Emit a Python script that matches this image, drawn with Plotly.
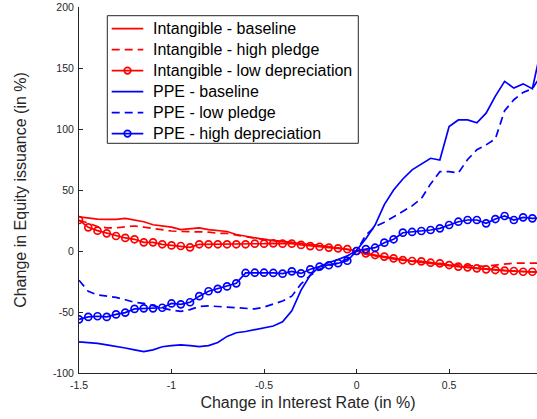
import plotly.graph_objects as go

x = [round(-1.5 + 0.05 * i, 2) for i in range(51)]

int_base = [28, 27, 26.2, 26, 26, 26.8, 25.5, 24, 21.5, 20.5, 19.5, 17.5, 18, 19, 17.5, 17, 16, 13.5, 12, 11,
            9.5, 8.5, 7.8, 7, 6.3, 5.5, 4.5, 3.5, 2.5, 1.2, 0, -2.5, -4, -5.5, -6.5, -7.5, -8.5, -9.5, -10.5, -11,
            -12, -12.8, -13.5, -14.2, -15, -15.6, -16, -16.5, -17, -17.2, -17.5]
int_high_pledge = [25, 23, 20, 19, 19, 20, 20.5, 19.5, 18.5, 17, 16.4, 16, 16, 15.8, 15.5, 14.5, 14.5, 13, 11.5, 10.5,
                   9.5, 8.5, 7.8, 7, 6.3, 5.5, 4.5, 3.5, 2.5, 1.2, 0, -2.5, -4, -5, -6, -7, -8, -9, -9.5, -10.2,
                   -11, -11.5, -12, -12.3, -12.5, -11.5, -10.5, -10, -10, -10, -10]
int_low_dep = [25.4, 19.4, 16.7, 14.5, 12.3, 10.7, 9.6, 7.1, 7.1, 5.5, 4.6, 4.1, 3, 5.5, 5.5, 5.5, 5.5, 5.5, 5.5, 6,
               6, 6.3, 6, 6, 5, 4, 3.5, 2.8, 2.2, 1.5, 0, -1.9, -3.3, -4.6, -6, -7.4, -8.2, -8.5, -9.6, -10.1,
               -11.5, -12.8, -13.4, -14.2, -15, -15.6, -16.1, -16.4, -17, -17, -17.2]
ppe_base = [-74.5, -75, -75.7, -77, -78, -79.5, -81, -82.5, -81, -78.5, -77.5, -77, -77.5, -78.4, -77.5, -75, -70, -67, -66, -64.5,
            -63.5, -61.5, -58, -49, -32, -19.7, -12.8, -9.5, -7, -4, 0.5, 10, 21.3, 38, 50, 59, 66.5, 71, 76, 74.6,
            102, 107.4, 107.4, 105, 113, 127, 139, 133.5, 137, 133, 168]
ppe_low_pledge = [-24, -33, -36, -37, -38, -40, -42, -43, -45, -47, -48.5, -49.5, -48, -45.5, -45, -45.5, -46, -47, -47.5, -47.5,
                  -46, -43.5, -41, -37, -27, -20, -15, -12, -10, -6.5, 0, 13, 20, 23.5, 28, 32, 37, 43, 55, 65,
                  65, 64, 75, 83, 87, 92, 115, 124, 130, 133, 145]
ppe_high_dep = [-56, -54, -53.5, -54, -52, -50.5, -47.5, -47, -47, -46.5, -43, -43.7, -42, -37, -33, -31, -29, -26.5, -18, -17.8,
                -17.8, -18, -18.6, -16.7, -18.4, -15, -12.8, -11.7, -10, -8, 0, 1.6, 2.7, 6.8, 9.6, 15, 15.6, 16.4, 17.2, 18.6,
                21.3, 24, 25.4, 25.4, 22.7, 26.2, 28.7, 25.4, 27.6, 26.8, 27]

x_ticks = [-1.5, -1, -0.5, 0, 0.5]
x_tick_labels = ["-1.5", "-1", "-0.5", "0", "0.5"]
y_ticks = [-100, -50, 0, 50, 100, 150, 200]
y_tick_labels = ["-100", "-50", "0", "50", "100", "150", "200"]

RED = "#ff0000"
BLUE = "#0000ff"
DASH = "8px,5px"
LW = 1.7

series = [
    ("Intangible - baseline", int_base, RED, "solid", False),
    ("Intangible - high pledge", int_high_pledge, RED, DASH, False),
    ("Intangible - low depreciation", int_low_dep, RED, "solid", True),
    ("PPE - baseline", ppe_base, BLUE, "solid", False),
    ("PPE - low pledge", ppe_low_pledge, BLUE, DASH, False),
    ("PPE - high depreciation", ppe_high_dep, BLUE, "solid", True),
]

W, H = 537, 419
ML, MR, MT, MB = 79, 0, 7, 46
PW, PH = W - ML - MR, H - MT - MB


def px(xp):
    return (xp - ML) / PW


def py(yp):
    return 1 - (yp - MT) / PH


fig = go.Figure()
for name, ys, col, dash, mk in series:
    fig.add_trace(go.Scatter(
        x=x, y=ys, name=name, showlegend=False,
        mode="lines+markers" if mk else "lines",
        line=dict(color=col, width=LW, dash=dash),
        marker=dict(symbol="circle-open", size=7, color=col, line=dict(width=1.7, color=col)),
        cliponaxis=True,
    ))

# Legend drawn as box + samples + text (MATLAB-style compact rows)
shapes = []
annotations = []
box_l, box_r, box_t, box_b = 107.3, 358.3, 15.7, 143.3
shapes.append(dict(type="rect", xref="paper", yref="paper",
                   x0=px(box_l), x1=px(box_r), y0=py(box_b), y1=py(box_t),
                   line=dict(color="#262626", width=1), fillcolor="white", layer="above"))
row0, row_gap = 28.6, 21.0
for i, (name, ys, col, dash, mk) in enumerate(series):
    yc = row0 + i * row_gap
    shapes.append(dict(type="line", xref="paper", yref="paper",
                       x0=px(111.7), x1=px(143.3), y0=py(yc), y1=py(yc),
                       line=dict(color=col, width=LW, dash=dash), layer="above"))
    if mk:
        r = 3.3
        shapes.append(dict(type="circle", xref="paper", yref="paper",
                           x0=px(127.5 - r), x1=px(127.5 + r), y0=py(yc + r), y1=py(yc - r),
                           line=dict(color=col, width=1.7), fillcolor="rgba(0,0,0,0)", layer="above"))
    annotations.append(dict(text=name, xref="paper", yref="paper", x=px(150.5), y=py(yc),
                            xanchor="left", yanchor="middle", showarrow=False,
                            font=dict(size=16, color="#000000")))

axis_color = "#262626"
fig.update_layout(
    width=W, height=H,
    margin=dict(l=ML, r=MR, t=MT, b=MB),
    paper_bgcolor="white", plot_bgcolor="white",
    font=dict(family="Liberation Sans, Arial, sans-serif", color=axis_color),
    showlegend=False,
    shapes=shapes,
    annotations=annotations,
    xaxis=dict(
        range=[-1.5, 0.975], tickvals=x_ticks, ticktext=x_tick_labels,
        showgrid=False, zeroline=False, showline=True, linecolor=axis_color, linewidth=1,
        ticks="inside", ticklen=4, tickcolor=axis_color,
        tickfont=dict(size=10.5, color=axis_color), ticklabelstandoff=2,
        title=dict(text="Change in Interest Rate (in %)", font=dict(size=16, color=axis_color), standoff=7),
    ),
    yaxis=dict(
        range=[-100, 200], tickvals=y_ticks, ticktext=y_tick_labels,
        showgrid=False, zeroline=False, showline=True, linecolor=axis_color, linewidth=1,
        ticks="inside", ticklen=4, tickcolor=axis_color,
        tickfont=dict(size=10.5, color=axis_color), ticklabelstandoff=2,
        title=dict(text="Change in Equity issuance (in %)", font=dict(size=16, color=axis_color), standoff=22),
    ),
)

fig.write_html("out.html")
